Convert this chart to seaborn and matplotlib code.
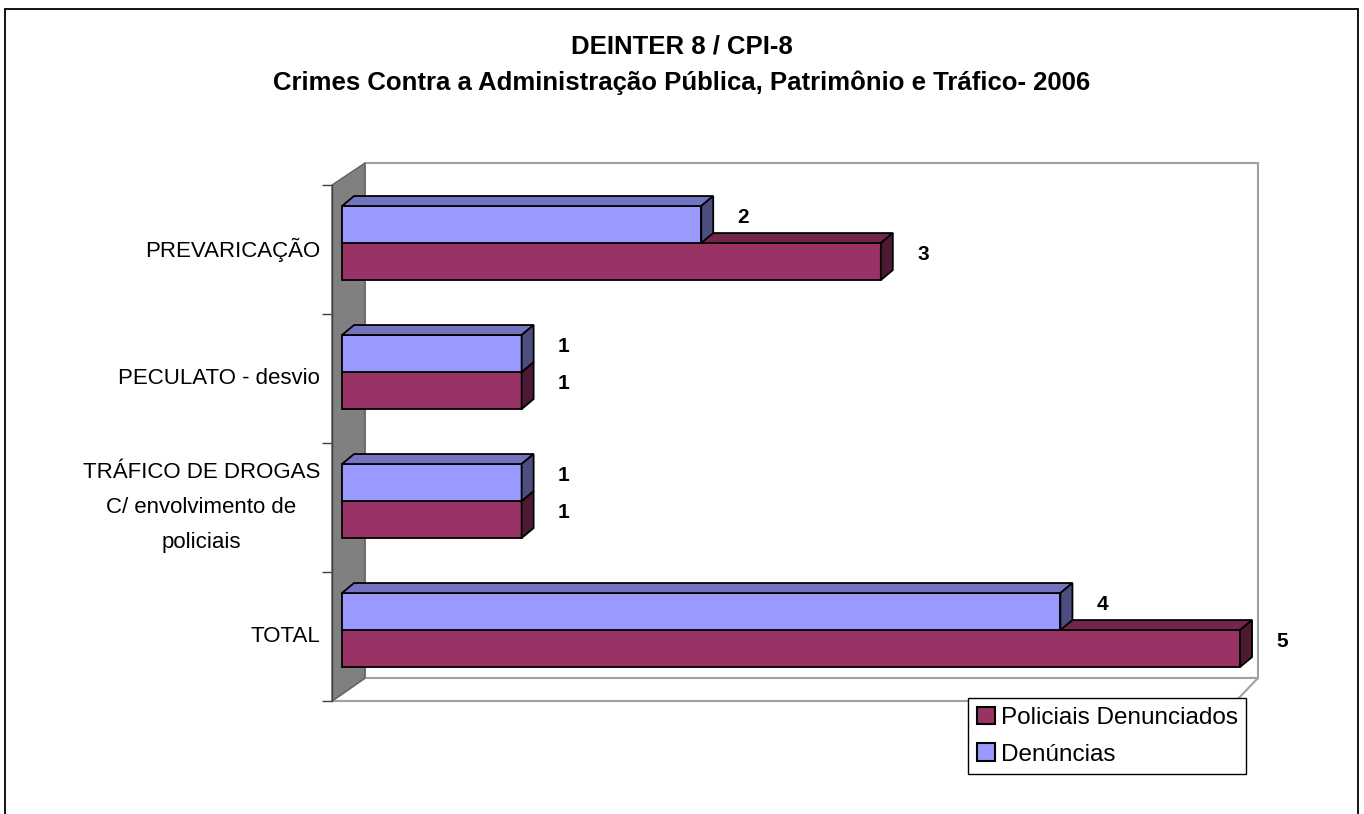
import numpy as np
import pandas as pd
import matplotlib
matplotlib.use("Agg")
import matplotlib.pyplot as plt
from matplotlib.patches import Polygon, Rectangle, Patch
import seaborn as sns

# data
categorias = ["PREVARICAÇÃO", "PECULATO - desvio",
              "TRÁFICO DE DROGAS\nC/ envolvimento de\npoliciais", "TOTAL"]
denuncias = [2, 1, 1, 4]
policiais_denunciados = [3, 1, 1, 5]
series = ["Denúncias", "Policiais Denunciados"]
titulo = "DEINTER 8 / CPI-8\nCrimes Contra a Administração Pública, Patrimônio e Tráfico- 2006"

cores = {"Denúncias": "#9999FF", "Policiais Denunciados": "#993366"}


def shade(hex_color, f):
    rgb = np.array(matplotlib.colors.to_rgb(hex_color)) * f
    return tuple(rgb)


df = pd.DataFrame({
    "categoria": categorias * 2,
    "valor": denuncias + policiais_denunciados,
    "serie": [series[0]] * len(categorias) + [series[1]] * len(categorias),
})

sns.set_style("white")
plt.rcParams["font.family"] = ["Liberation Sans", "DejaVu Sans"]
plt.rcParams["text.color"] = "black"

W, H = 1364, 814
fig = plt.figure(figsize=(W / 100, H / 100), dpi=100)

# axes area = front plane of the 3D box (pixel layout of the reference)
ax_l, ax_r, ax_t, ax_b = 332, 1258, 185, 701
ax = fig.add_axes([ax_l / W, 1 - ax_b / H, (ax_r - ax_l) / W, (ax_b - ax_t) / H])

sns.barplot(data=df, y="categoria", x="valor", hue="serie", orient="h",
            hue_order=series, order=categorias, palette=cores, width=0.574,
            saturation=1, edgecolor="black", linewidth=1.3, legend=False, ax=ax)

x0, x1 = -0.0557, 5.1
y0, y1 = 3.55, -0.45
ax.set_xlim(x0, x1)
ax.set_ylim(y0, y1)

ux = (ax_r - ax_l) / (x1 - x0)   # px per value unit
uy = (ax_b - ax_t) / (y0 - y1)   # px per category unit


def px(xp, yp):
    """pixel position -> data coords"""
    return (x0 + (xp - ax_l) / ux, y1 + (yp - ax_t) / uy)


# walls and floor
back = Polygon([px(365, 163), px(1258, 163), px(1258, 678), px(365, 678)],
               closed=True, facecolor="white", edgecolor="#a0a0a0", lw=1.5,
               zorder=0.5, clip_on=False)
side = Polygon([px(332, 185), px(365, 163), px(365, 678), px(332, 701)],
               closed=True, facecolor="#808080", edgecolor="#606060", lw=1,
               zorder=0.6, clip_on=False)
floor = Polygon([px(332, 701), px(365, 678), px(1258, 678), px(1236, 701)],
                closed=True, facecolor="white", edgecolor="#a0a0a0", lw=1.5,
                zorder=0.55, clip_on=False)
for p in (back, floor, side):
    ax.add_patch(p)

# 3D faces of the bars
ddx, ddy = 12 / ux, -10 / uy
n = len(categorias)
for i, bar in enumerate(ax.patches[:2 * n]):
    s = series[i // n]
    z = 3 if s == series[0] else 2
    bar.set_zorder(z)
    bx, by, bw, bh = bar.get_x(), bar.get_y(), bar.get_width(), bar.get_height()
    top = Polygon([(bx, by), (bx + ddx, by + ddy), (bx + bw + ddx, by + ddy), (bx + bw, by)],
                  closed=True, facecolor=shade(cores[s], 0.75), edgecolor="black",
                  lw=1.3, zorder=z, clip_on=False)
    lado = Polygon([(bx + bw, by), (bx + bw + ddx, by + ddy),
                    (bx + bw + ddx, by + bh + ddy), (bx + bw, by + bh)],
                   closed=True, facecolor=shade(cores[s], 0.5), edgecolor="black",
                   lw=1.3, zorder=z, clip_on=False)
    ax.add_patch(top)
    ax.add_patch(lado)
    ax.text(bx + bw + 42 / ux, by + bh / 2 - 7 / uy, f"{bar.get_width():.0f}",
            ha="center", va="center", fontsize=15, fontweight="bold", zorder=5)

# axes / ticks
for sp in ["top", "right", "bottom"]:
    ax.spines[sp].set_visible(False)
ax.spines["left"].set_color("#404040")
ax.spines["left"].set_linewidth(1)
ax.set_xticks([])
ax.set_xlabel("")
ax.set_ylabel("")
ax.set_yticks(np.arange(-0.45, 3.6, 1.0))
ax.set_yticklabels([])
ax.tick_params(axis="y", which="major", left=True, length=7.2, width=1,
               color="#404040", direction="out")
for i, cat in enumerate(categorias):
    ax.text(px(320, 0)[0], i + 0.05, cat, ha="right", va="center",
            multialignment="center", fontsize=16, linespacing=1.85, clip_on=False)
ax.patch.set_alpha(0)

fig.suptitle(titulo, y=1 - 65 / H, va="center", fontsize=18.5, fontweight="bold",
             linespacing=1.6)

handles = [Patch(facecolor=cores[s], edgecolor="black", lw=1.5) for s in series[::-1]]
leg = fig.legend(handles, series[::-1], loc="upper left",
                 bbox_to_anchor=(968 / W, 1 - 698 / H), fontsize=17.5,
                 frameon=True, fancybox=False, edgecolor="black", framealpha=1,
                 handlelength=0.75, handleheight=0.75, handletextpad=0.25,
                 borderpad=0.35, labelspacing=0.6, borderaxespad=0)
leg.get_frame().set_linewidth(1)

fig.add_artist(Rectangle((5 / W, -0.05), (1358 - 5) / W, 1 - 9 / H + 0.05,
                         transform=fig.transFigure, fill=False,
                         edgecolor="black", lw=1.3))

fig.savefig("out.png", dpi=100)
